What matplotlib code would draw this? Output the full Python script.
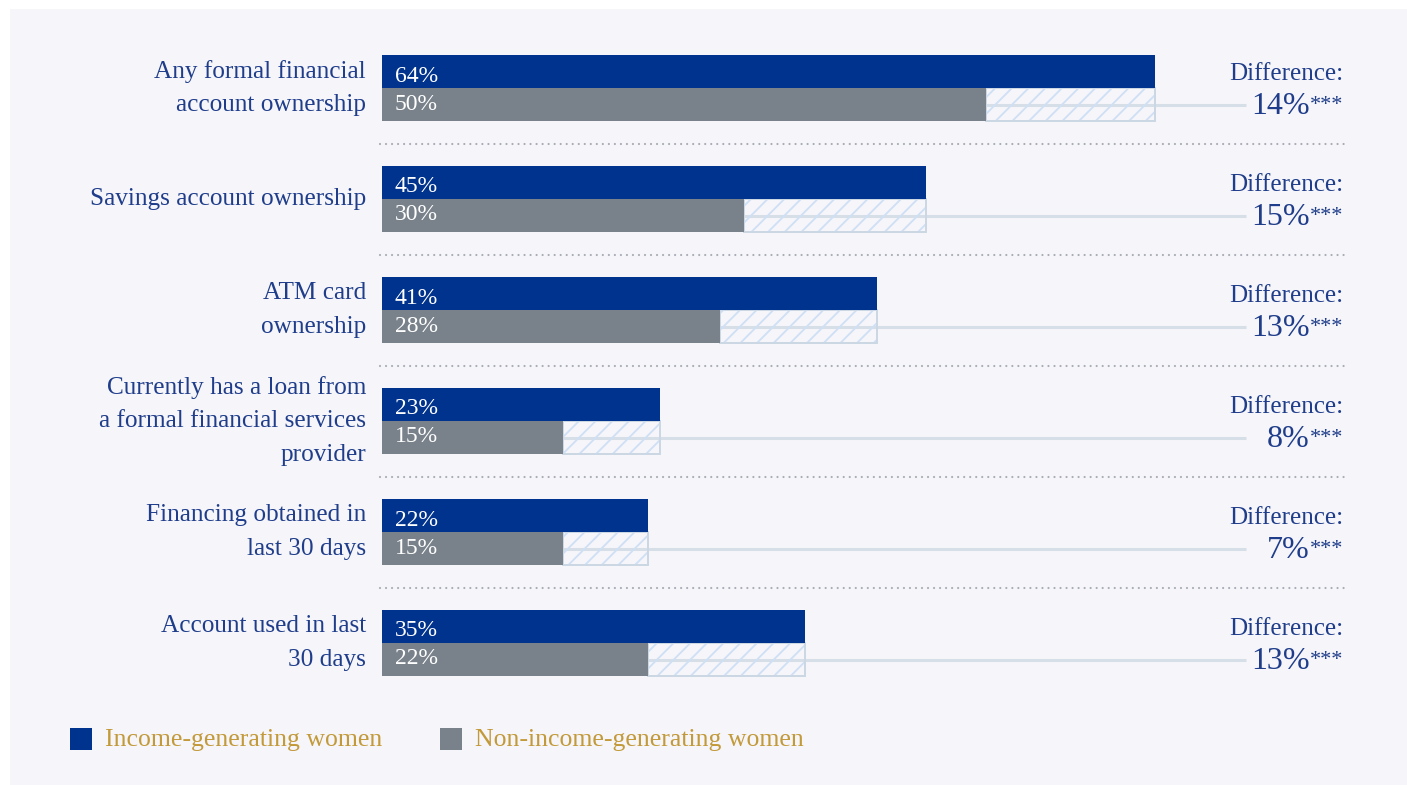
import matplotlib
matplotlib.use('Agg')
import matplotlib.pyplot as plt
import numpy as np
from matplotlib.patches import Rectangle
from matplotlib.transforms import blended_transform_factory

# indicators, top to bottom
categories = [
    'Any formal financial\naccount ownership',
    'Savings account ownership',
    'ATM card\nownership',
    'Currently has a loan from\na formal financial services\nprovider',
    'Financing obtained in\nlast 30 days',
    'Account used in last\n30 days',
]
income_pct = [64, 45, 41, 23, 22, 35]        # income-generating women
non_income_pct = [50, 30, 28, 15, 15, 22]    # non-income-generating women
significance = ['***', '***', '***', '***', '***', '***']
series_names = ['Income-generating women', 'Non-income-generating women']

BLUE = '#00338d'
GREY = '#79828b'
TEXT = '#1f3d8a'
GOLD = '#c39a3a'
PANEL = '#f5f5fa'
HATCH = '#cfe0f5'
HATCH_EDGE = '#cbd7e4'
CONNECT = '#d6dee8'
DOTS = '#a8acb4'

plt.rcParams['font.family'] = ['Liberation Serif', 'DejaVu Serif']
plt.rcParams['hatch.linewidth'] = 1.3

W, H = 1407, 785
PX_PER_PCT = 12.08          # horizontal scale of the bars
AX_LEFT, AX_RIGHT = 382, 1345
AX_TOP, ROW_H = 32.5, 111

fig = plt.figure(figsize=(W / 100, H / 100), dpi=100)
fig.patch.set_facecolor('white')
fig.add_artist(Rectangle((10 / W, 0), 1, 1 - 9 / H, transform=fig.transFigure,
                         fc=PANEL, ec='none', zorder=-10))

n = len(categories)
ax_w = AX_RIGHT - AX_LEFT
ax_h = ROW_H * n
ax = fig.add_axes([AX_LEFT / W, (H - AX_TOP - ax_h) / H, ax_w / W, ax_h / H])
ax.set_xlim(0, ax_w / PX_PER_PCT)
ax.set_ylim(n, 0)
ax.axis('off')

inc = np.array(income_pct)
non = np.array(non_income_pct)
diff = inc - non
rows = np.arange(n) + 0.5
h = 33 / ROW_H

ax.barh(rows - h / 2, inc, height=h, color=BLUE, zorder=3)
ax.barh(rows + h / 2, non, height=h, color=GREY, zorder=3)
ax.barh(rows + h / 2, diff, left=non, height=h, fc='none', ec=HATCH,
        hatch='//', lw=0, zorder=2)
ax.barh(rows + h / 2, diff, left=non, height=h, fill=False, ec=HATCH_EDGE,
        lw=1.4, zorder=2)

bt = blended_transform_factory(ax.transAxes, ax.transData)

def fx(px):
    # figure pixel -> axes fraction
    return (px - AX_LEFT) / ax_w

line_end = (1246 - AX_LEFT) / PX_PER_PCT
renderer = fig.canvas.get_renderer()

for i in range(n):
    y = rows[i]
    # connector from the grey bar to the difference value
    ax.plot([non[i], line_end], [y + h / 2, y + h / 2], color=CONNECT, lw=2.2,
            zorder=1, solid_capstyle='butt')

    ax.text(fx(366), y, categories[i], transform=bt, ha='right', va='center',
            color=TEXT, fontsize=18.2, linespacing=1.65)

    ax.annotate(f'{inc[i]}%', xy=(0, y - h / 2), xytext=(13, -2),
                textcoords='offset pixels', ha='left', va='center_baseline',
                color='white', fontsize=17, zorder=4)
    ax.annotate(f'{non[i]}%', xy=(0, y + h / 2), xytext=(13, 3),
                textcoords='offset pixels', ha='left', va='center_baseline',
                color='white', fontsize=17, zorder=4)

    ax.text(fx(1343), y - 8 / ROW_H, 'Difference:', transform=bt,
            ha='right', va='baseline', color=TEXT, fontsize=18)
    stars = ax.text(fx(1343), y + 22 / ROW_H, significance[i], transform=bt,
                    ha='right', va='baseline', color=TEXT, fontsize=16)
    sw = stars.get_window_extent(renderer).width
    ax.text(fx(1343 - sw), y + 26 / ROW_H, f'{diff[i]}%', transform=bt,
            ha='right', va='baseline', color=TEXT, fontsize=23)

# dotted separators between indicators
for i in range(1, n):
    ax.plot([fx(380), fx(1345)], [i, i], transform=bt, color=DOTS, lw=1.6,
            ls=(0, (0.01, 2.7)), dash_capstyle='round', clip_on=False)

# legend
for x0, col, name in [(70, BLUE, series_names[0]), (440, GREY, series_names[1])]:
    fig.add_artist(Rectangle((x0 / W, (H - 750) / H), 22 / W, 22 / H,
                             transform=fig.transFigure, fc=col, ec='none'))
    fig.text((x0 + 35) / W, (H - 740) / H, name, ha='left', va='center',
             color=GOLD, fontsize=18.5)

fig.savefig('out.png', dpi=100, facecolor=fig.get_facecolor())
